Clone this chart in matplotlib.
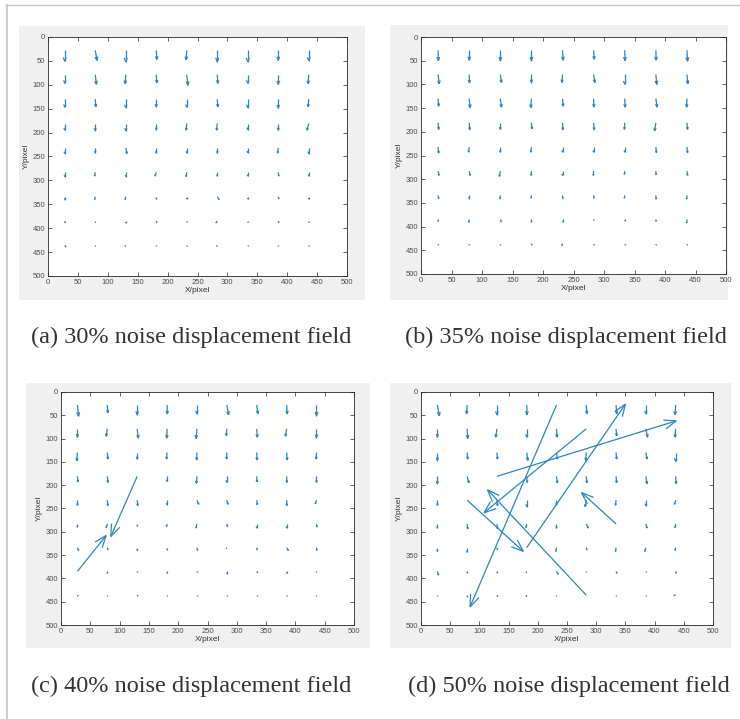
import numpy as np
import matplotlib.pyplot as plt
from matplotlib.collections import LineCollection
from matplotlib.patches import Rectangle
from matplotlib.lines import Line2D

W, H = 740, 719

# sampling grid (pixel coordinates of the subset centres)
grid_x = [28, 79, 130, 181, 232, 283, 334, 385, 436]
grid_y = [28, 79, 130, 181, 232, 283, 334, 385, 436]

# displacement components, rows follow grid_y, columns follow grid_x
u_30 = [
    [0, 3, 0, 1, -1, 0, 0, 0, 0],
    [0, 2, -1, 1, 2, 1, 0, 0, -1],
    [0, 1, 0, 0, 0, 1, 0, 0, -1],
    [0, 0, 0, 0, -1, -1, 0, 0, -3],
    [0, 0, 2, 0, 0, 0, 0, -1, 0],
    [0, -1, 0, -2, -1, 0, 0, 1, 0],
    [0, -1, -1, 0, 0, 3, 0, 1, 0],
    [1, 0, 0, 1, 0, -2, 0, 1, 0],
    [2, 0, -1, 0, 0, -1, 0, 0, 0],
]
v_30 = [
    [23, 21, 24, 19, 20, 24, 24, 21, 22],
    [18, 20, 19, 17, 22, 18, 18, 20, 19],
    [17, 16, 18, 16, 17, 16, 18, 19, 16],
    [14, 15, 15, 13, 14, 14, 13, 14, 14],
    [12, 10, 12, 11, 11, 11, 10, 11, 12],
    [9, 8, 9, 8, 9, 8, 8, 8, 8],
    [6, 6, 6, 5, 5, 6, 5, 5, 5],
    [4, 3, 4, 3, 2, 4, 3, 3, 3],
    [3, 2, 2, 1, 2, 2, 1, 1, 2],
]

u_35 = [
    [0.5, 0, 0, 0, 1, 1, 0.5, 0.5, 1],
    [2, 0.5, 2, 0, -1, 2, 0, 1.5, 1.5],
    [1, 1.5, 2, -1, 1, 0.5, 0.5, 2, -0.5],
    [1, 1, 0, 1, 0.5, 1, -0.5, -2, 1],
    [1, -1, 0, -1, 0, 0, 0, 1, 1],
    [1.5, 1.5, -1.5, -0.5, 0, -0.5, -0.5, 0.5, 1],
    [1, 0, -0.5, -0.5, 0.5, 0.5, -0.5, 0.5, -0.5],
    [0.5, -0.5, 2, 0, 0, 0.5, 0, 0.5, -0.5],
    [0, 0, 0, 1, -1, 0, 0, 0, 0],
]
v_35 = [
    [22, 21, 22, 22, 21, 19, 22, 21, 23],
    [20, 18, 17, 17, 17, 17, 21, 21, 20],
    [16, 19, 18, 19, 16, 18, 18, 18, 18],
    [14, 15, 14, 13, 15, 15, 14, 17, 14],
    [13, 11, 11, 11, 11, 11, 11, 12, 12],
    [9, 9, 11, 9, 9, 9, 7, 8, 9],
    [7, 7, 7, 6, 7, 6, 6, 8, 8],
    [4, 6, 5, 5, 5, 2, 3, 4, 7],
    [2, 2, 2, 3, 4, 3, 2, 2, 2],
]

u_40 = [
    [2, 1, 0, 0.5, 0, 3, 2, 1, 0],
    [0, -2, 2, -0.5, -1.5, -1, 1, -2, 0],
    [-1, 1, 0, -1, -0.5, -0.5, 0.5, 1, -0.5],
    [1, 1, -45, 0, -1, 0, 0.5, 0.5, 0],
    [0, 1, 1, 0, 3, 2, 1, 0.5, -2],
    [0, -2, 0, -1, -1.5, 1, 0, 0, 1],
    [2, 1, 0, 0, 1, -1, 1, 3, 0.5],
    [49, 0, 0, 0, 0, 0, 1.5, 0, 0],
    [1, 0, 1.5, 0, 0, 0, 0, 0, 0],
]
v_40 = [
    [24, 17, 21, 19, 19, 21, 19, 19, 23],
    [18, 16, 20, 20, 21, 15, 18, 16, 19],
    [18, 14, 14, 14, 16, 14, 16, 16, 14],
    [12, 13, 129, 11, 15, 13, 12, 13, 13],
    [11, 12, 12, 10, 9, 9, 10, 12, 8],
    [7, 8, 4, 6, 9, 6, 9, 9, 7],
    [6, 5, 6, 4, 6, 2, 5, 6, 6],
    [-77, 4, 2, 4, 2, 5, 3, 4, 2],
    [2, 1, 2, 1, 1, 1, 1, 1, 1],
]

u_50 = [
    [3.5, -1, 0, 0.5, -148, 1, 1, 0, -1],
    [0, 1, -2, 0, 1, -175, 1, 3, -1],
    [0, 1, 1, 2, 1.5, -1, 1, 2, 0],
    [0, 3, 307, 1, 1.5, 1, 1, 2, 1],
    [0, 96, 1, 0, 0, -2, -1, 0, -2],
    [0, 1, 1, -1, 0, 3.5, -59, 2, -1],
    [0, 0, 1, 169, -1, 1, -1, -2, -1],
    [2, 0, 0, -1, 3, 0, 1.5, 0, 1],
    [0, 0, 1.5, -1, 0, -169, 0, 0, -3],
]
v_50 = [
    [23, 19, 21, 21, 433, 19, 19, 19, 21],
    [18, 21, 18, 18, 18, 180, 15, 18, 18],
    [17, 14, 14, 17, 14, 17, 14, 14, 19],
    [16, 14, -119, 13, 14, 14, 14, 16, 16],
    [11, 110, 12, 14, 10, 14, 11, 12, 9],
    [9, 11, 10, 8, 9, 9, -67, 9, 8],
    [8, 10, 5, -308, 8, 5, 8, 8, 6],
    [8, 3, 3, 3, 6, 1.5, 4, 1.5, 4],
    [1, 3, 3, 3, 1, -226, 1, 1, 0.5],
]

captions = [
    "(a) 30% noise displacement field",
    "(b) 35% noise displacement field",
    "(c) 40% noise displacement field",
    "(d) 50% noise displacement field",
]
fields = [(u_30, v_30), (u_35, v_35), (u_40, v_40), (u_50, v_50)]

ticks = [0, 50, 100, 150, 200, 250, 300, 350, 400, 450, 500]

# panel geometry in pixels: axes box, grey frame box, caption anchor
axes_px = [(48, 37, 347, 276), (421, 37, 726, 274),
           (61, 392, 354, 625), (421, 392, 713, 625)]
frame_px = [(19, 26, 365, 300), (390, 25, 728, 300),
            (26, 383, 370, 648), (390, 383, 731, 648)]
caption_px = [(31, 337), (405, 337), (31, 686), (408, 686)]

arrow_color = "#2a86c8"
tick_color = "#4d4d4d"


def fig_rect(x0, y0, x1, y1):
    return [x0 / W, 1 - y1 / H, (x1 - x0) / W, (y1 - y0) / H]


def draw_field(ax, u, v, box):
    # scale factors data -> pixels, used to keep arrow heads undistorted
    sx = (box[2] - box[0]) / 500
    sy = (box[3] - box[1]) / 500
    segs = []
    for i, y0 in enumerate(grid_y):
        for j, x0 in enumerate(grid_x):
            du, dv = u[i][j], v[i][j]
            tx, ty = x0 + du, y0 + dv
            segs.append([(x0, y0), (tx, ty)])
            px, py = du * sx, dv * sy
            L = np.hypot(px, py)
            if L == 0:
                continue
            h = min(0.35 * L, 12)
            w = 0.38 * h
            ex, ey = px / L, py / L
            for s in (1, -1):
                bx = -h * ex - s * w * ey
                by = -h * ey + s * w * ex
                segs.append([(tx, ty), (tx + bx / sx, ty + by / sy)])
    ax.add_collection(LineCollection(segs, colors=arrow_color, linewidths=0.9))


fig = plt.figure(figsize=(W / 100, H / 100), dpi=100)
fig.patch.set_facecolor("white")

# thin page rules along the top and left edge
fig.add_artist(Line2D([6 / W, 1], [1 - 4.5 / H, 1 - 4.5 / H], color="#c4c4c4", lw=1.0))
fig.add_artist(Line2D([6.5 / W, 6.5 / W], [0, 1 - 4.5 / H], color="#c4c4c4", lw=1.2))

for k in range(4):
    fx0, fy0, fx1, fy1 = frame_px[k]
    r = fig_rect(fx0, fy0, fx1, fy1)
    fig.add_artist(Rectangle((r[0], r[1]), r[2], r[3], transform=fig.transFigure,
                             facecolor="#f0f0f0", edgecolor="none", zorder=0))

    ax = fig.add_axes(fig_rect(*axes_px[k]))
    ax.set_facecolor("white")
    u, v = fields[k]
    draw_field(ax, u, v, axes_px[k])

    ax.set_xlim(0, 500)
    ax.set_ylim(500, 0)
    ax.set_xticks(ticks)
    ax.set_yticks(ticks)
    ax.tick_params(direction="in", length=3, width=0.5, top=True, right=True,
                   labelsize=5.5, labelcolor=tick_color, color="#262626", pad=2)
    for lab in ax.get_xticklabels() + ax.get_yticklabels():
        lab.set_fontfamily("Liberation Sans")
    for sp in ax.spines.values():
        sp.set_linewidth(0.6)
        sp.set_color("#262626")
    ax.set_xlabel("X/pixel", fontsize=6, color="#333333", family="Liberation Sans", labelpad=1)
    ax.set_ylabel("Y/pixel", fontsize=6, color="#333333", family="Liberation Sans", labelpad=2)

    cx, cy = caption_px[k]
    fig.text(cx / W, 1 - cy / H, captions[k], ha="left", va="center",
             fontsize=17.5, family="Liberation Serif", color="#333333")

fig.savefig("out.png", dpi=100)
